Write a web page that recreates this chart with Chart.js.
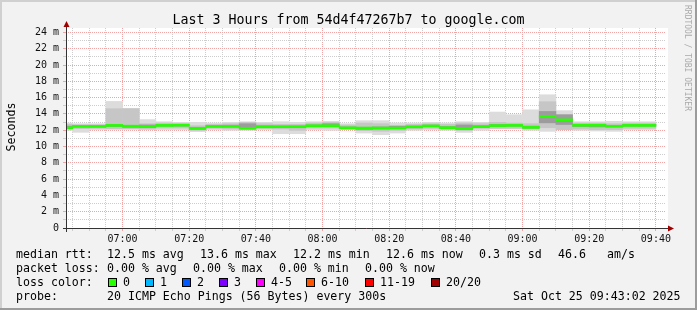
<!DOCTYPE html>
<html lang="en">
<head>
<meta charset="UTF-8">
<title>Last 3 Hours from 54d4f47267b7 to google.com</title>
<script src="https://cdn.jsdelivr.net/npm/chart.js"></script>
<style>
    html, body { margin: 0; padding: 0; background: #f2f2f2; }
    #wrap { width: 697px; height: 310px; }
</style>
</head>
<body>
<div id="wrap"><canvas id="smokeChart" width="697" height="310"></canvas></div>
<script>
// end time of each 5 minute step
const stepTimes = ['06:45', '06:50', '06:55', '07:00', '07:05', '07:10', '07:15', '07:20', '07:25', '07:30', '07:35', '07:40',
    '07:45', '07:50', '07:55', '08:00', '08:05', '08:10', '08:15', '08:20', '08:25', '08:30', '08:35', '08:40',
    '08:45', '08:50', '08:55', '09:00', '09:05', '09:10', '09:15', '09:20', '09:25', '09:30', '09:35', '09:40'];

// median rtt (ms)
const medianRtt = [12.29, 12.47, 12.47, 12.59, 12.50, 12.43, 12.59, 12.62, 12.24, 12.47, 12.47, 12.24,
    12.41, 12.43, 12.43, 12.55, 12.55, 12.29, 12.27, 12.27, 12.27, 12.41, 12.53, 12.31,
    12.18, 12.43, 12.57, 12.59, 12.35, 13.66, 13.27, 12.61, 12.61, 12.49, 12.59, 12.59];

// smoke: outer band (slowest / fastest ping)
const pingMax = [12.88, 12.80, 12.80, 15.53, 14.68, 13.30, 13.04, 12.96, 12.96, 12.88, 12.96, 13.04,
    12.96, 13.04, 12.96, 13.04, 13.09, 12.80, 13.17, 13.17, 12.88, 12.88, 12.96, 12.88,
    13.04, 12.96, 14.23, 13.90, 14.50, 16.35, 14.40, 13.04, 13.04, 13.09, 13.04, 13.04];
const pingMin = [11.98, 11.74, 12.06, 12.14, 12.14, 12.06, 12.06, 12.06, 11.82, 12.06, 11.98, 11.98,
    12.06, 11.57, 11.57, 12.06, 11.98, 12.06, 11.65, 11.45, 11.65, 11.98, 12.06, 11.98,
    11.73, 11.98, 12.14, 12.14, 11.98, 11.86, 12.06, 11.98, 11.90, 11.86, 12.06, 12.06];

// smoke: middle band
const midHi = [12.72, 12.68, 12.68, 14.64, 14.64, 12.80, 12.88, 12.80, 12.55, 12.72, 12.80, 12.96,
    12.80, 12.72, 12.72, 12.88, 12.96, 12.64, 12.88, 12.80, 12.55, 12.72, 12.80, 12.72,
    12.88, 12.80, 12.96, 12.88, 12.80, 15.50, 13.90, 12.88, 12.88, 12.80, 12.88, 12.88];
const midLo = [12.20, 12.19, 12.23, 12.14, 12.14, 12.14, 12.27, 12.27, 11.98, 12.23, 12.14, 12.06,
    12.23, 12.14, 11.98, 12.27, 12.27, 12.14, 11.94, 11.86, 11.98, 12.14, 12.23, 12.14,
    11.98, 12.23, 12.23, 12.23, 12.14, 12.30, 12.06, 12.14, 12.06, 12.06, 12.23, 12.23];

// smoke: dense core round the median
const innerHi = [12.50, 12.55, 12.55, 12.70, 12.60, 12.65, 12.70, 12.70, 12.35, 12.60, 12.62, 12.80,
    12.55, 12.50, 12.50, 12.65, 12.80, 12.40, 12.35, 12.40, 12.50, 12.50, 12.62, 12.45,
    12.65, 12.55, 12.70, 12.70, 12.50, 14.30, 13.90, 12.70, 12.70, 12.60, 12.70, 12.70];
const innerLo = [12.20, 12.40, 12.40, 12.45, 12.35, 12.40, 12.50, 12.50, 12.10, 12.40, 12.40, 12.20,
    12.35, 12.30, 12.30, 12.45, 12.45, 12.20, 12.10, 12.15, 12.20, 12.30, 12.45, 12.25,
    12.10, 12.35, 12.45, 12.50, 12.25, 12.90, 12.70, 12.45, 12.40, 12.40, 12.50, 12.50];

// legend texts
const rttStats = ['12.5 ms avg', '13.6 ms max', '12.2 ms min', '12.6 ms now', '0.3 ms sd', '46.6', 'am/s'];
const lossStats = ['0.00 % avg', '0.00 % max', '0.00 % min', '0.00 % now'];
const lossLabels = ['0', '1', '2', '3', '4-5', '6-10', '11-19', '20/20'];
const lossColors = ['#26ff00', '#00b8ff', '#0059ff', '#7e00ff', '#ff00ff', '#ff5500', '#ff0000', '#a10000'];
const probeText = '20 ICMP Echo Pings (56 Bytes) every 300s';
const stampText = 'Sat Oct 25 09:43:02 2025';

const FONT = '"DejaVu Sans Mono", "Liberation Mono", monospace';
const MAJOR = '#f2a3a3';
const MINOR = '#cdcdcd';

function toMinutes(t) {
    const p = t.split(':');
    return Number(p[0]) * 60 + Number(p[1]);
}
function fmtTime(v) {
    const h = Math.floor(v / 60), m = v % 60;
    return String(h).padStart(2, '0') + ':' + String(m).padStart(2, '0');
}

// each step is drawn centred in its 5 minute slot
const centers = stepTimes.map(t => toMinutes(t) - 2.5);
function band(lo, hi) {
    return centers.map((x, i) => ({ x: x, y: [lo[i], hi[i]] }));
}
const LINE_HALF = 0.12; // green median drawn ~2px thick
const medLo = medianRtt.map(v => v - LINE_HALF);
const medHi = medianRtt.map(v => v + LINE_HALF);

// x range: 06:43:02 .. 09:43:02
const X_MIN = toMinutes('06:43') + 2 / 60;
const X_MAX = toMinutes('09:43') + 2 / 60;

const frame = {
    id: 'frame',
    beforeDraw(chart) {
        const { ctx, chartArea: a, width, height } = chart;
        ctx.save();
        ctx.fillStyle = '#f2f2f2';
        ctx.fillRect(0, 0, width, height);
        ctx.fillStyle = '#d0d0d0';
        ctx.fillRect(0, 0, width, 2);
        ctx.fillRect(0, 0, 2, height);
        ctx.fillStyle = '#9c9c9c';
        ctx.fillRect(0, height - 2, width, 2);
        ctx.fillRect(width - 2, 0, 2, height);
        ctx.fillStyle = '#ffffff';
        ctx.fillRect(a.left, a.top, a.right - a.left + 2, a.bottom - a.top);
        ctx.restore();
    },
    afterDraw(chart) {
        const { ctx, chartArea: a } = chart;
        ctx.save();

        // axes
        ctx.strokeStyle = '#333';
        ctx.lineWidth = 1;
        ctx.beginPath();
        ctx.moveTo(a.left + 0.5, a.bottom + 4);
        ctx.lineTo(a.left + 0.5, a.top - 3);
        ctx.moveTo(a.left - 3, a.bottom + 0.5);
        ctx.lineTo(a.right + 4, a.bottom + 0.5);
        ctx.stroke();
        ctx.fillStyle = '#a00000';
        ctx.beginPath();
        ctx.moveTo(a.left + 0.5, a.top - 7);
        ctx.lineTo(a.left - 2.5, a.top - 1);
        ctx.lineTo(a.left + 3.5, a.top - 1);
        ctx.closePath();
        ctx.fill();
        ctx.beginPath();
        ctx.moveTo(a.right + 8, a.bottom + 0.5);
        ctx.lineTo(a.right + 2, a.bottom - 2.5);
        ctx.lineTo(a.right + 2, a.bottom + 3.5);
        ctx.closePath();
        ctx.fill();

        // title
        ctx.fillStyle = '#000';
        ctx.font = '13.3px ' + FONT;
        ctx.textAlign = 'center';
        ctx.textBaseline = 'alphabetic';
        ctx.fillText('Last 3 Hours from 54d4f47267b7 to google.com', 348.5, 24);

        // y axis title
        ctx.save();
        ctx.font = '11.6px ' + FONT;
        ctx.translate(15, 127);
        ctx.rotate(-Math.PI / 2);
        ctx.fillText('Seconds', 0, 0);
        ctx.restore();

        // watermark
        ctx.save();
        ctx.fillStyle = '#aaaaaa';
        ctx.font = '8px ' + FONT;
        ctx.textAlign = 'left';
        ctx.translate(685, 5);
        ctx.rotate(Math.PI / 2);
        ctx.fillText('RRDTOOL / TOBI OETIKER', 0, 0);
        ctx.restore();

        // legend
        ctx.font = '11.6px ' + FONT;
        ctx.textAlign = 'left';
        ctx.fillStyle = '#000';
        const rttX = [107, 200, 293, 386, 479, 558, 607];
        ctx.fillText('median rtt:', 16, 258);
        rttStats.forEach((s, i) => ctx.fillText(s, rttX[i], 258));
        const lossX = [107, 193, 279, 365];
        ctx.fillText('packet loss:', 16, 272);
        lossStats.forEach((s, i) => ctx.fillText(s, lossX[i], 272));
        ctx.fillText('loss color:', 16, 286);
        const boxX = [108, 145, 182, 219, 256, 306, 365, 431];
        lossLabels.forEach((s, i) => {
            ctx.fillStyle = lossColors[i];
            ctx.fillRect(boxX[i], 278, 9, 9);
            ctx.strokeStyle = '#000';
            ctx.strokeRect(boxX[i] + 0.5, 278.5, 8, 8);
            ctx.fillStyle = '#000';
            ctx.fillText(s, boxX[i] + 15, 286);
        });
        ctx.fillText('probe:', 16, 300);
        ctx.fillText(probeText, 107, 300);
        ctx.fillText(stampText, 513, 300);
        ctx.restore();
    }
};

const gridColor = (ctx, step) => (ctx.tick && Math.round(ctx.tick.value) % step === 0) ? MAJOR : MINOR;

new Chart(document.getElementById('smokeChart'), {
    type: 'bar',
    data: {
        datasets: [
            { data: band(medLo, medHi), backgroundColor: lossColors[0], order: 0 },
            { data: band(innerLo, innerHi), backgroundColor: '#9c9c9c', order: 1 },
            { data: band(midLo, midHi), backgroundColor: '#c6c6c6', order: 2 },
            { data: band(pingMin, pingMax), backgroundColor: '#dcdcdc', order: 3 }
        ]
    },
    options: {
        responsive: false,
        animation: false,
        events: [],
        layout: { padding: { left: 0, top: 28, right: 31, bottom: 0 } },
        plugins: {
            legend: { display: false },
            title: { display: false },
            tooltip: { enabled: false }
        },
        datasets: {
            bar: { grouped: false, barPercentage: 1, categoryPercentage: 1, borderWidth: 0 }
        },
        scales: {
            x: {
                type: 'linear',
                min: X_MIN,
                max: X_MAX,
                offset: false,
                // one tick per 5 minute step
                afterBuildTicks: s => { s.ticks = stepTimes.map(t => ({ value: toMinutes(t) })); },
                afterFit: s => { s.height = 82; },
                border: { display: false, dash: [1, 1] },
                grid: {
                    offset: false,
                    borderDash: [1, 1],
                    color: c => gridColor(c, 20),
                    tickColor: c => gridColor(c, 20),
                    tickLength: 3
                },
                ticks: {
                    autoSkip: false,
                    maxRotation: 0,
                    padding: 2,
                    color: '#111',
                    font: { family: FONT, size: 10 },
                    callback: v => (Math.round(v) % 20 === 0 ? fmtTime(Math.round(v)) : '')
                }
            },
            y: {
                min: 0,
                max: 24.54,
                afterFit: s => { s.width = 66; },
                border: { display: false, dash: [1, 1] },
                grid: {
                    borderDash: [1, 1],
                    color: c => gridColor(c, 2),
                    tickColor: c => gridColor(c, 2),
                    tickLength: 3
                },
                ticks: {
                    stepSize: 1,
                    includeBounds: false,
                    autoSkip: false,
                    padding: 4,
                    color: '#111',
                    font: { family: FONT, size: 10 },
                    callback: v => (v === 0 ? '0' : (v % 2 === 0 ? v + ' m' : ''))
                }
            }
        }
    },
    plugins: [frame]
});
</script>
</body>
</html>
